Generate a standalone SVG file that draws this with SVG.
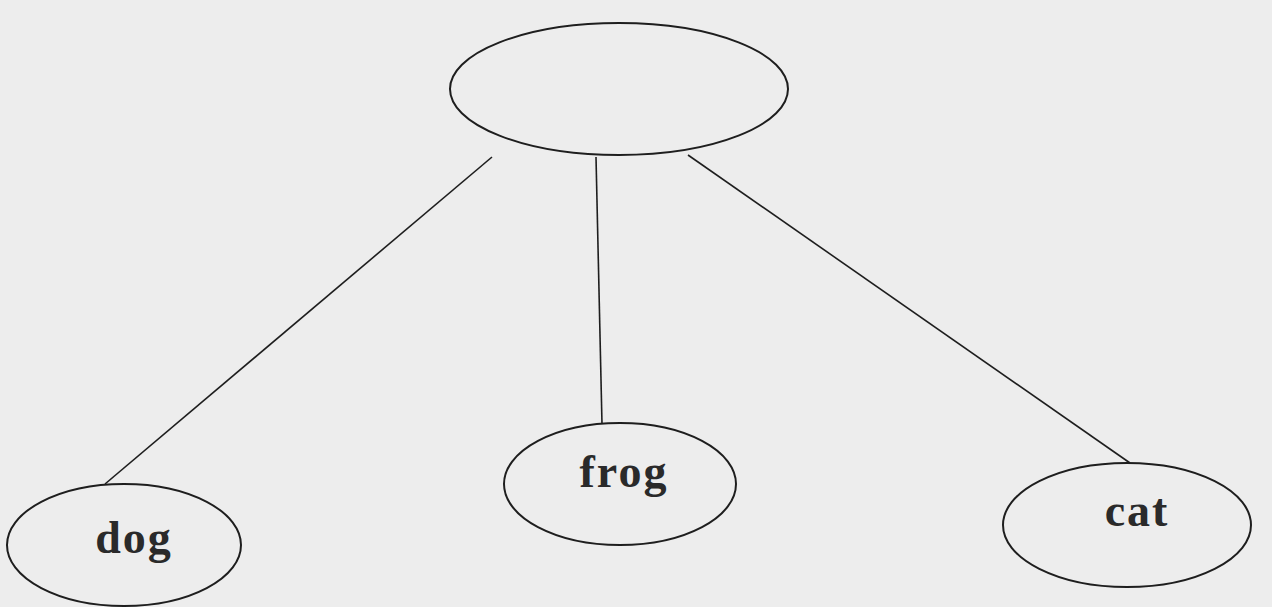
<svg xmlns="http://www.w3.org/2000/svg" width="1272" height="607" viewBox="0 0 1272 607">
<style>
.node{fill:none;stroke:#1e1e1e;stroke-width:2}
.edge{stroke:#1e1e1e;stroke-width:1.6;fill:none}
.lbl{font-family:"Liberation Serif",serif;font-weight:bold;font-size:46px;fill:#2a2a2a;text-anchor:middle;letter-spacing:2px}
</style>
<rect width="1272" height="607" fill="#ededed"/>
<g id="connectors">
<line class="edge" x1="492" y1="157" x2="105" y2="484"/>
<line class="edge" x1="596" y1="157" x2="602" y2="424"/>
<line class="edge" x1="688" y1="155" x2="1130" y2="463"/>
</g>
<g id="root"><ellipse class="node" cx="619" cy="89" rx="169" ry="66"/></g>
<g id="dog"><ellipse class="node" cx="124" cy="545" rx="117" ry="61"/><text class="lbl" x="134" y="553">dog</text></g>
<g id="frog"><ellipse class="node" cx="620" cy="484" rx="116" ry="61"/><text class="lbl" x="624" y="487">frog</text></g>
<g id="cat"><ellipse class="node" cx="1127" cy="525" rx="124" ry="62"/><text class="lbl" x="1137" y="526">cat</text></g>
</svg>
